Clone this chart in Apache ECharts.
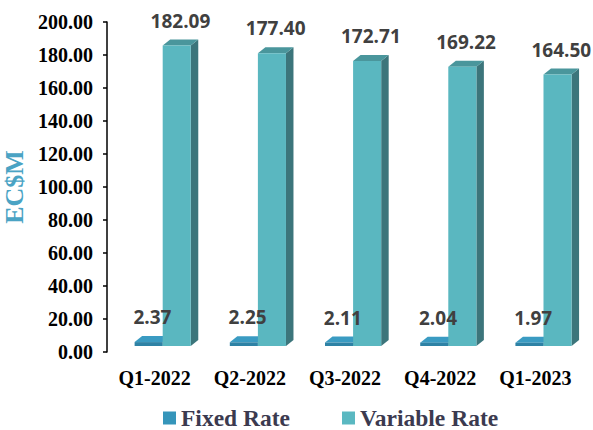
<!DOCTYPE html>
<html>
<head>
<meta charset="utf-8">
<script src="https://cdn.jsdelivr.net/npm/echarts@6/dist/echarts.min.js"></script>
<style>
html,body{margin:0;padding:0;background:#fff;}
#chart{width:593px;height:430px;}
</style>
</head>
<body>
<div id="chart"></div>
<script>
const categories = ['Q1-2022', 'Q2-2022', 'Q3-2022', 'Q4-2022', 'Q1-2023'];
const fixedRate = [2.37, 2.25, 2.11, 2.04, 1.97];
const variableRate = [182.09, 177.40, 172.71, 169.22, 164.50];
const yMin = 0, yMax = 200, yStep = 20;

const chart = echarts.init(document.getElementById('chart'), null, {renderer: 'svg'});

const LIFT = 6, DX = 7.5, DY = 6, WFRAC = 0.295;
const SERIF = 'Liberation Serif, Times New Roman, serif';

function geom(api, offsetFrac) {
  const idx = api.value(0), v = api.value(1);
  const base = api.coord([idx, 0]);
  const top = api.coord([idx, v]);
  const band = api.size([1, 0])[0];
  const w = band * WFRAC;
  const x0 = base[0] + band * offsetFrac;
  return {v, w, x0, yb: base[1] - LIFT, yt: top[1] - LIFT};
}

function makeBars(offsetFrac, front, side, topc) {
  return function (params, api) {
    const g = geom(api, offsetFrac);
    const {w, x0, yb, yt} = g;
    return {
      type: 'group',
      children: [
        {type: 'polygon', shape: {points: [[x0 + w, yb], [x0 + w + DX, yb - DY], [x0 + w + DX, yt - DY], [x0 + w, yt]]}, style: {fill: side}},
        {type: 'polygon', shape: {points: [[x0, yt], [x0 + DX, yt - DY], [x0 + w + DX, yt - DY], [x0 + w, yt]]}, style: {fill: topc}},
        {type: 'rect', shape: {x: x0, y: yt, width: w, height: yb - yt}, style: {fill: front}}
      ]
    };
  };
}

function makeLabels(offsetFrac) {
  return function (params, api) {
    const g = geom(api, offsetFrac);
    return {
      type: 'text', x: g.x0 + g.w / 2 + DX / 2, y: g.yt - DY - 19,
      style: {text: g.v.toFixed(2), fill: '#404040', font: 'bold 19px "Open Sans", sans-serif', align: 'center', verticalAlign: 'middle'}
    };
  };
}

chart.setOption({
  animation: false,
  grid: {left: 107, right: 10, top: 22, bottom: 78, outerBoundsMode: 'none', containLabel: false},
  legend: {
    left: 158, top: 401,
    icon: 'rect', itemWidth: 13, itemHeight: 13, itemGap: 52,
    textStyle: {fontFamily: SERIF, fontWeight: 'bold', fontSize: 23.5, lineHeight: 23, color: '#3b3a4f'},
    data: ['Fixed Rate', 'Variable Rate']
  },
  xAxis: {
    type: 'category', data: categories, boundaryGap: true,
    axisLine: {show: false}, axisTick: {show: false},
    axisLabel: {interval: 0, margin: 16, fontFamily: SERIF, fontWeight: 'bold', fontSize: 20, color: '#000'}
  },
  yAxis: {
    type: 'value', min: yMin, max: yMax, interval: yStep,
    name: 'EC$M', nameLocation: 'middle', nameGap: 76, nameRotate: 90,
    nameTextStyle: {fontFamily: SERIF, fontWeight: 'bold', fontSize: 26, color: '#4aa3c4'},
    axisLine: {show: true, lineStyle: {color: '#000', width: 1.5}},
    axisTick: {show: true, length: 4, lineStyle: {color: '#000', width: 1.5}},
    splitLine: {show: false},
    axisLabel: {margin: 14, formatter: v => v.toFixed(2), fontFamily: SERIF, fontWeight: 'bold', fontSize: 20, color: '#000'}
  },
  series: [
    {
      name: 'Fixed Rate', type: 'custom', z: 2,
      itemStyle: {color: '#3595ba'},
      renderItem: makeBars(-0.21, '#2e82a5', '#24607a', '#3a9bc2'),
      data: fixedRate.map((v, i) => [i, v])
    },
    {
      name: 'Variable Rate', type: 'custom', z: 2,
      itemStyle: {color: '#5ab8c1'},
      renderItem: makeBars(0.085, '#5ab7c0', '#3c757b', '#4a969c'),
      data: variableRate.map((v, i) => [i, v])
    },
    {
      name: 'Fixed Rate labels', type: 'custom', z: 10, silent: true,
      renderItem: makeLabels(-0.21),
      data: fixedRate.map((v, i) => [i, v])
    },
    {
      name: 'Variable Rate labels', type: 'custom', z: 10, silent: true,
      renderItem: makeLabels(0.085),
      data: variableRate.map((v, i) => [i, v])
    }
  ]
});
</script>
</body>
</html>
